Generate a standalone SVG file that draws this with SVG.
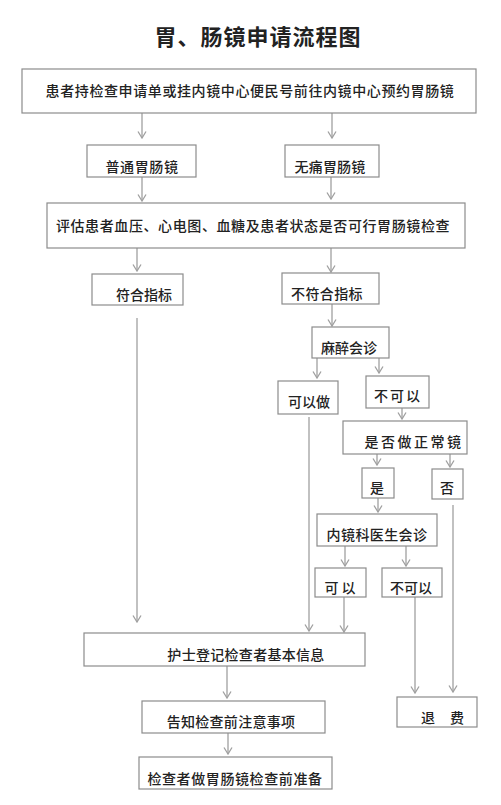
<svg xmlns="http://www.w3.org/2000/svg" width="501" height="805" viewBox="0 0 501 805">
<style>
.box{fill:#fff;stroke:#8c8c8c;stroke-width:1.2}
.t{font-family:"Noto Sans CJK SC","Noto Sans CJK JP",sans-serif;font-size:14px;font-weight:500;fill:#222;text-anchor:middle}
.title{font-family:"Noto Sans CJK SC","Noto Sans CJK JP",sans-serif;font-size:22px;font-weight:700;fill:#222;text-anchor:middle}
.c line{stroke:#a0a0a0;stroke-width:1.3;fill:none}
.c line.a{marker-end:url(#ah)}
</style>
<defs>
<marker id="ah" viewBox="0 0 10 10" refX="9" refY="5" markerWidth="10" markerHeight="10" markerUnits="userSpaceOnUse" orient="auto">
<path d="M2.5,1 L9,5 L2.5,9" fill="none" stroke="#a0a0a0" stroke-width="1.3"/>
</marker>
</defs>
<rect width="501" height="805" fill="#fff"/>
<text class="title" x="258" y="45" letter-spacing="1">胃、肠镜申请流程图</text>

<g id="connectors" class="c">
<line class="a" x1="142" y1="113" x2="142" y2="138"/>
<line class="a" x1="332" y1="113" x2="332" y2="138"/>
<line class="a" x1="142" y1="177" x2="142" y2="201"/>
<line class="a" x1="331" y1="177" x2="331" y2="199"/>
<line class="a" x1="137" y1="248" x2="137" y2="271"/>
<line class="a" x1="331" y1="248" x2="331" y2="272"/>
<line class="a" x1="137" y1="318" x2="137" y2="622"/>
<line class="a" x1="332" y1="304" x2="332" y2="326"/>
<line class="a" x1="317" y1="358" x2="317" y2="378"/>
<line class="a" x1="379" y1="358" x2="379" y2="373"/>
<line class="a" x1="402" y1="403" x2="402" y2="419"/>
<line class="a" x1="309" y1="417" x2="309" y2="631"/>
<line class="a" x1="377" y1="454" x2="377" y2="465"/>
<line class="a" x1="450" y1="454" x2="450" y2="467"/>
<line class="a" x1="378" y1="498" x2="378" y2="512"/>
<line class="a" x1="453" y1="505" x2="453" y2="692"/>
<line class="a" x1="345" y1="546" x2="345" y2="566"/>
<line class="a" x1="406" y1="546" x2="406" y2="566"/>
<line class="a" x1="344" y1="597" x2="344" y2="632"/>
<line class="a" x1="415" y1="597" x2="415" y2="693"/>
<line class="a" x1="227" y1="666" x2="227" y2="698"/>
<line class="a" x1="228" y1="731" x2="228" y2="754"/>
</g>

<g id="n1"><rect class="box" x="22" y="69" width="454" height="44"/><text class="t" x="250" y="96" letter-spacing="0.6">患者持检查申请单或挂内镜中心便民号前往内镜中心预约胃肠镜</text></g>
<g id="n2"><rect class="box" x="87" y="145" width="109" height="32"/><text class="t" x="142" y="172" font-size="15" letter-spacing="0.6">普通胃肠镜</text></g>
<g id="n3"><rect class="box" x="285" y="145" width="94" height="32"/><text class="t" x="330" y="172" font-size="15" letter-spacing="0.2">无痛胃肠镜</text></g>
<g id="n4"><rect class="box" x="47" y="203" width="418" height="45"/><text class="t" x="253" y="231" letter-spacing="0.6">评估患者血压、心电图、血糖及患者状态是否可行胃肠镜检查</text></g>
<g id="n5"><rect class="box" x="92" y="274" width="91" height="31"/><text class="t" x="144" y="300">符合指标</text></g>
<g id="n6"><rect class="box" x="282" y="273" width="97" height="31"/><text class="t" x="327" y="299" letter-spacing="0.4">不符合指标</text></g>
<g id="n7"><rect class="box" x="312" y="327" width="77" height="31"/><text class="t" x="349" y="353">麻醉会诊</text></g>
<g id="n8"><rect class="box" x="278" y="381" width="60" height="33"/><text class="t" x="309" y="407">可以做</text></g>
<g id="n9"><rect class="box" x="366" y="376" width="63" height="32"/><text class="t" x="398" y="401" letter-spacing="2">不可以</text></g>
<g id="n10"><rect class="box" x="343" y="421" width="124" height="33"/><text class="t" x="414" y="447" letter-spacing="2.5">是否做正常镜</text></g>
<g id="n11"><rect class="box" x="362" y="468" width="32" height="30"/><text class="t" x="377" y="493">是</text></g>
<g id="n12"><rect class="box" x="432" y="469" width="31" height="30"/><text class="t" x="447" y="493">否</text></g>
<g id="n13"><rect class="box" x="317" y="514" width="120" height="32"/><text class="t" x="377" y="540" letter-spacing="0.4">内镜科医生会诊</text></g>
<g id="n14"><rect class="box" x="315" y="568" width="51" height="29"/><text class="t" x="340" y="593" xml:space="preserve">可 以</text></g>
<g id="n15"><rect class="box" x="382" y="568" width="60" height="29"/><text class="t" x="411" y="593">不可以</text></g>
<g id="n16"><rect class="box" x="84" y="633" width="281" height="33"/><text class="t" x="246" y="660" letter-spacing="0.3">护士登记检查者基本信息</text></g>
<g id="n17"><rect class="box" x="142" y="701" width="183" height="32"/><text class="t" x="231" y="727" letter-spacing="0.3">告知检查前注意事项</text></g>
<g id="n18"><rect class="box" x="139" y="757" width="193" height="32"/><text class="t" x="235" y="784" letter-spacing="0.6">检查者做胃肠镜检查前准备</text></g>
<g id="n19"><rect class="box" x="397" y="697" width="80" height="30"/><text class="t" x="428" y="723">退</text><text class="t" x="457" y="723">费</text></g>
</svg>
